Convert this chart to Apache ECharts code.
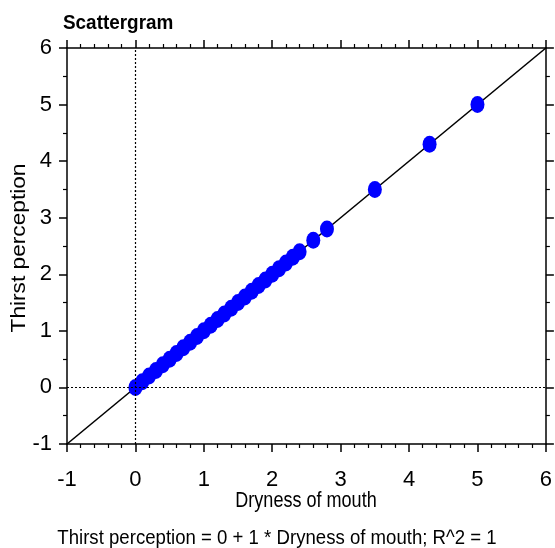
<!DOCTYPE html>
<html>
<head>
<meta charset="utf-8">
<script src="https://cdn.jsdelivr.net/npm/echarts@6/dist/echarts.min.js"></script>
<style>
html,body{margin:0;padding:0;background:#fff;}
#c{width:555px;height:548px;}
</style>
</head>
<body>
<div id="c"></div>
<script>
var dryness = [0, 0.1, 0.2, 0.3, 0.4, 0.5, 0.6, 0.7, 0.8, 0.9, 1.0, 1.1, 1.2, 1.3, 1.4, 1.5, 1.6, 1.7, 1.8, 1.9, 2.0, 2.1, 2.2, 2.3, 2.4, 2.6, 2.8, 3.5, 4.3, 5.0];
var thirst  = [0, 0.1, 0.2, 0.3, 0.4, 0.5, 0.6, 0.7, 0.8, 0.9, 1.0, 1.1, 1.2, 1.3, 1.4, 1.5, 1.6, 1.7, 1.8, 1.9, 2.0, 2.1, 2.2, 2.3, 2.4, 2.6, 2.8, 3.5, 4.3, 5.0];
var fitLineX = [-1, 6];
var intercept = 0, slope = 1, rSquared = 1;
var axisMin = -1, axisMax = 6;
var titleText = 'Scattergram';
var xName = 'Dryness of mouth';
var yName = 'Thirst perception';

var FONT = '"Liberation Sans", Arial, sans-serif';
var chart = echarts.init(document.getElementById('c'), null, {renderer: 'canvas'});

var pts = dryness.map(function (x, i) { return [x, thirst[i]]; });
var fit = fitLineX.map(function (x) { return [x, intercept + slope * x]; });

function axisCommon(extra) {
  var base = {
    type: 'value', min: axisMin, max: axisMax, interval: 1,
    axisLine: {show: true, onZero: false, lineStyle: {color: '#000', width: 1.5}},
    axisTick: {show: true, inside: false, length: 8, lineStyle: {color: '#000', width: 1.5}},
    splitLine: {show: false},
    axisLabel: {show: true, color: '#000', fontFamily: FONT, fontSize: 22}
  };
  for (var k in extra) base[k] = extra[k];
  return base;
}

function txt(text, x, y, size, weight, sx, rot) {
  return {
    type: 'text', x: x, y: y, scaleX: sx, rotation: rot || 0, silent: true,
    style: {text: text, fill: '#000', font: weight + ' ' + size + 'px ' + FONT,
            align: 'center', verticalAlign: 'middle'}
  };
}

chart.setOption({
  animation: false,
  backgroundColor: '#fff',
  grid: {left: 67, right: 9, top: 48, bottom: 104, containLabel: false},
  graphic: [
    {type: 'text', x: 63, y: 23, scaleX: 0.9, silent: true,
     style: {text: titleText, fill: '#000', font: 'bold 21px ' + FONT, align: 'left', verticalAlign: 'middle'}},
    txt(yName + ' = ' + intercept + ' + ' + slope + ' * ' + xName + '; R^2 = ' + rSquared, 277, 538, 20, 'normal', 0.93),
    txt(xName, 306, 501, 22, 'normal', 0.82),
    txt(yName, 19, 248, 21, 'normal', 1.08, Math.PI / 2)
  ],
  xAxis: [
    axisCommon({position: 'bottom',
      axisLabel: {show: true, color: '#000', fontFamily: FONT, fontSize: 22, margin: 25},
      minorTick: {show: true, splitNumber: 5, length: 4, lineStyle: {color: '#000', width: 1.2}}}),
    axisCommon({position: 'top', axisLabel: {show: false},
      minorTick: {show: true, splitNumber: 5, length: 4, lineStyle: {color: '#000', width: 1.2}}})
  ],
  yAxis: [
    axisCommon({position: 'left',
      axisLabel: {show: true, color: '#000', fontFamily: FONT, fontSize: 22, margin: 15},
      minorTick: {show: true, splitNumber: 2, length: 4, lineStyle: {color: '#000', width: 1.2}}}),
    axisCommon({position: 'right', axisLabel: {show: false},
      minorTick: {show: true, splitNumber: 2, length: 4, lineStyle: {color: '#000', width: 1.2}}})
  ],
  series: [
    {
      type: 'line', data: fit, xAxisIndex: 0, yAxisIndex: 0,
      showSymbol: false, symbol: 'none',
      lineStyle: {color: '#000', width: 1.6}, z: 2,
      markLine: {
        silent: true, symbol: ['none', 'none'], label: {show: false},
        lineStyle: {color: '#000', width: 1.2, type: [2, 2]},
        data: [{xAxis: 0}, {yAxis: 0}]
      }
    },
    {
      type: 'scatter', data: pts, xAxisIndex: 0, yAxisIndex: 0,
      symbol: 'circle', symbolSize: [14, 17],
      itemStyle: {color: '#0000ff', opacity: 1}, z: 3
    }
  ]
});
</script>
</body>
</html>
